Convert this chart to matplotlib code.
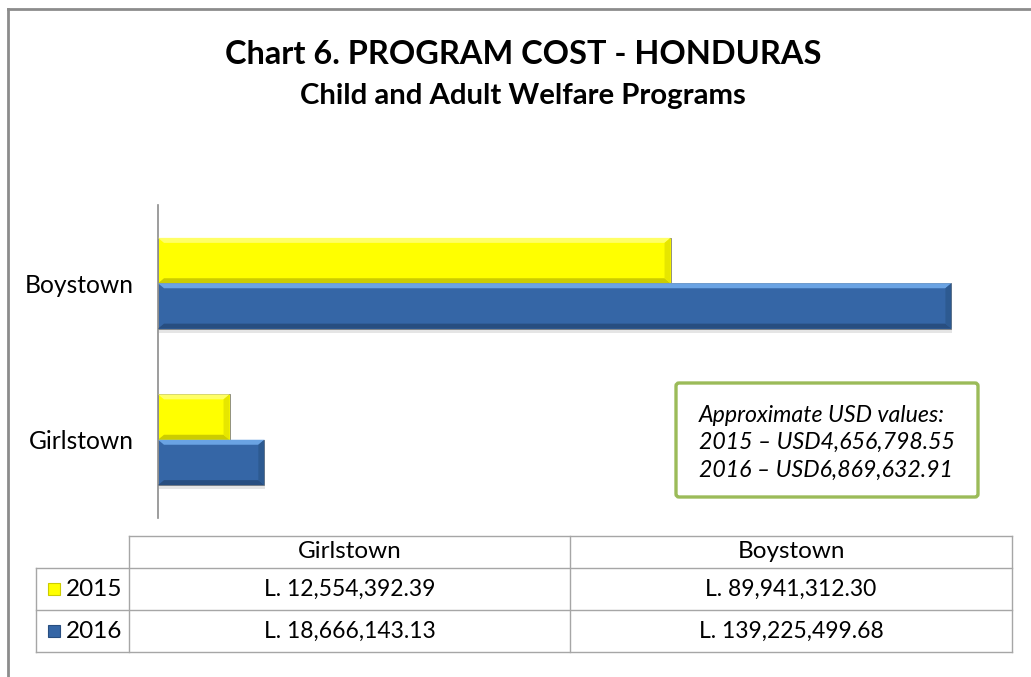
import numpy as np
import matplotlib.pyplot as plt
from matplotlib.patches import Polygon, Rectangle, FancyBboxPatch
from matplotlib.lines import Line2D

programs = ["Girlstown", "Boystown"]
years = ["2015", "2016"]
cost_2015 = [12554392.39, 89941312.30]
cost_2016 = [18666143.13, 139225499.68]
usd_note = ["Approximate USD values:",
            "2015 \u2013 USD4,656,798.55",
            "2016 \u2013 USD6,869,632.91"]

plt.rcParams['font.family'] = ['Lato', 'DejaVu Sans']

W, H = 1031, 677
fig = plt.figure(figsize=(W / 100, H / 100), dpi=100)
fig.patch.set_facecolor("white")

# pixel overlay for frame, titles, table
bg = fig.add_axes([0, 0, 1, 1])
bg.set_xlim(0, W)
bg.set_ylim(H, 0)
bg.axis("off")

bg.add_line(Line2D([8, 8], [9, H + 5], color="#8c8c8c", lw=2))
bg.add_line(Line2D([8, W + 5], [9, 9], color="#8c8c8c", lw=2))

bg.text(523, 55, "Chart 6. PROGRAM COST - HONDURAS", ha="center", va="center",
        fontsize=23.4, fontweight="bold")
bg.text(523, 96, "Child and Adult Welfare Programs", ha="center", va="center",
        fontsize=21.2, fontweight="bold")

# bar area
ax = fig.add_axes([158 / W, (H - 518) / H, (1000 - 158) / W, (518 - 205) / H])
ax.patch.set_alpha(0)
ax.set_xlim(0, 147.75e6)
ax.set_ylim(-0.5, 1.5)
for s in ["top", "right", "bottom"]:
    ax.spines[s].set_visible(False)
ax.spines["left"].set_color("#8c8c8c")
ax.spines["left"].set_linewidth(1.2)
ax.set_xticks([])
ax.set_yticks(range(len(programs)))
ax.set_yticklabels(programs, fontsize=17.7)
ax.tick_params(axis="y", length=0, pad=17.5)

fig.canvas.draw()
px_x = ax.bbox.width / 147.75e6
px_y = ax.bbox.height / 2.0


def bevel_bar(ax, y0, w, h, face, light, dark, side):
    bx = 6 / px_x
    by = 5 / px_y
    x0, x1, y1 = 0, w, y0 + h
    sx, sy = 3 / px_x, 4 / px_y
    ax.add_patch(Rectangle((x0 + sx * 0.3, y0 - sy), w, h, color="#000000",
                           alpha=0.10, lw=0, zorder=1))
    ax.add_patch(Rectangle((x0, y0), w, h, facecolor=face, edgecolor="#808080",
                           lw=0.6, zorder=2))
    ax.add_patch(Polygon([(x0, y1), (x1, y1), (x1 - bx, y1 - by), (x0 + bx, y1 - by)],
                         closed=True, color=light, lw=0, zorder=3))
    ax.add_patch(Polygon([(x0, y0), (x1, y0), (x1 - bx, y0 + by), (x0 + bx, y0 + by)],
                         closed=True, color=dark, lw=0, zorder=3))
    ax.add_patch(Polygon([(x1, y0), (x1, y1), (x1 - bx, y1 - by), (x1 - bx, y0 + by)],
                         closed=True, color=side, lw=0, zorder=3))


bh = 0.29
yellow = ("#ffff00", "#ffff66", "#cccc00", "#e6e600")
blue = ("#3566a6", "#6aa3e3", "#284e80", "#2d5a91")
for i, p in enumerate(programs):
    bevel_bar(ax, i, cost_2015[i], bh, *yellow)
    bevel_bar(ax, i - bh, cost_2016[i], bh, *blue)

# note box
box = FancyBboxPatch((676, 383), 302, 114, boxstyle="round,pad=0,rounding_size=3",
                     facecolor="white", edgecolor="#9bbb59", lw=2.4, zorder=5)
bg.add_patch(box)
for k, line in enumerate(usd_note):
    bg.text(699, 415 + k * 27.5, line, ha="left", va="center", fontsize=16.7,
            style="italic", zorder=6)

# data table
gc = "#a6a6a6"
xs = [36, 129, 570, 1012]
ys = [536, 568, 610, 652]
bg.add_line(Line2D([129, 1012], [536, 536], color=gc, lw=1))
for yy in ys[1:]:
    bg.add_line(Line2D([36, 1012], [yy, yy], color=gc, lw=1))
bg.add_line(Line2D([36, 36], [568, 652], color=gc, lw=1))
for xx in xs[1:]:
    bg.add_line(Line2D([xx, xx], [536, 652], color=gc, lw=1))

for j, p in enumerate(programs):
    cx = (xs[j + 1] + xs[j + 2]) / 2
    bg.text(cx, 552, p, ha="center", va="center", fontsize=17.5)
    for r, vals in enumerate([cost_2015, cost_2016]):
        cy = (ys[r + 1] + ys[r + 2]) / 2
        bg.text(cx, cy, "L. {:,.2f}".format(vals[j]), ha="center", va="center",
                fontsize=16.5)

for r, (yr, col) in enumerate(zip(years, [yellow, blue])):
    cy = (ys[r + 1] + ys[r + 2]) / 2
    bg.add_patch(Rectangle((48, cy - 6), 12, 12, facecolor=col[0],
                           edgecolor=col[2], lw=0.8))
    bg.text(66, cy, yr, ha="left", va="center", fontsize=17.5)

fig.savefig("out.png", dpi=100)
